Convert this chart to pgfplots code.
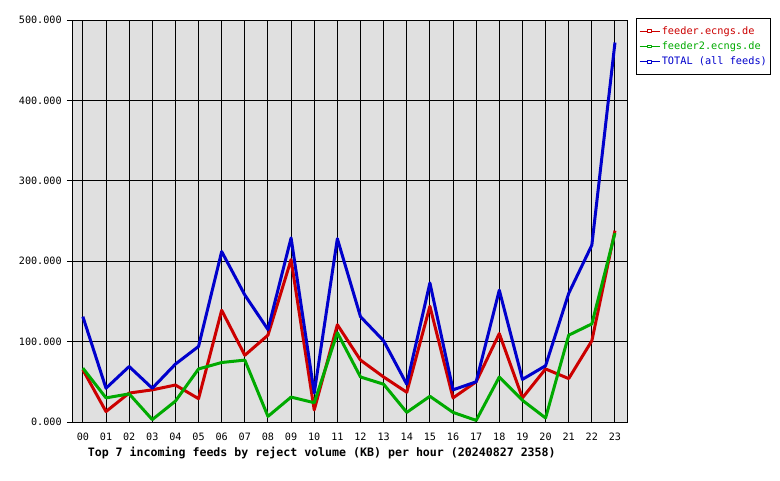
\documentclass[border=0pt]{standalone}
\usepackage{fontspec}
\setmonofont{DejaVu Sans Mono}
\usepackage{pgfplots}
\pgfplotsset{compat=1.18}
\definecolor{cred}{RGB}{204,0,0}
\definecolor{cgreen}{RGB}{0,170,0}
\definecolor{cblue}{RGB}{0,0,204}
\definecolor{bg}{RGB}{224,224,224}
\begin{document}
\begin{tikzpicture}[x=1pt,y=1pt]
\begin{axis}[
  name=ax,
  scale only axis,
  width=416.25pt, height=301.5pt,
  xmin=-0.47, xmax=23.52,
  ymin=0, ymax=500,
  axis background/.style={fill=bg},
  axis line style={black, line width=0.75pt},
  grid=major,
  major grid style={black, line width=0.75pt},
  xtick={0,...,23},
  xticklabels={00,01,02,03,04,05,06,07,08,09,10,11,12,13,14,15,16,17,18,19,20,21,22,23},
  ytick={0,100,...,500},
  ytick pos=left, xtick pos=bottom,
  tick align=outside,
  major tick length=3.75pt,
  xtick style={draw=none},
  ytick style={black, line width=0.75pt},
  /pgf/number format/.cd, fixed, fixed zerofill, precision=3, assume math mode=true,
  /pgfplots/.cd,
  scaled y ticks=false,
  ticklabel style={font=\ttfamily\fontsize{7.6}{9}\selectfont, text=black},
  xticklabel style={yshift=-1pt},
  yticklabel style={xshift=-0.5pt},
  legend style={at={(axis description cs:1.016,1.005)}, anchor=north west,
    draw=black, line width=0.75pt, fill=white,
    font=\ttfamily\fontsize{7.7}{9}\selectfont,
    inner xsep=2pt, inner ysep=5pt,
    row sep=2.6pt,
    nodes={inner sep=0.8pt}},
  legend cell align=left,
  legend image code/.code={
    \draw[#1, line width=0.75pt, line join=miter] (0pt,0pt) -- (15.5pt,0pt);
    \draw[#1, line width=0.75pt, fill=white] (6.25pt,-0.9pt) rectangle (9.25pt,1.1pt);
  },
  clip=false,
]
\addplot[cred, line width=2.25pt, line join=round] coordinates {
(0,65) (1,13) (2,36) (3,40) (4,46) (5,29) (6,139) (7,83) (8,108) (9,202) (10,15) (11,121)
(12,77) (13,56) (14,37) (15,144) (16,30) (17,50) (18,110) (19,30) (20,66) (21,54) (22,101) (23,238)};
\addlegendentry{\textcolor{cred}{feeder.ecngs.de}}
\addplot[cgreen, line width=2.25pt, line join=round] coordinates {
(0,67) (1,30) (2,35) (3,3) (4,26) (5,66) (6,74) (7,77) (8,7) (9,31) (10,24) (11,111)
(12,56) (13,47) (14,12) (15,32) (16,12) (17,2) (18,56) (19,27) (20,5) (21,108) (22,122) (23,235)};
\addlegendentry{\textcolor{cgreen}{feeder2.ecngs.de}}
\addplot[cblue, line width=2.25pt, line join=round] coordinates {
(0,131) (1,42) (2,69) (3,42) (4,72) (5,94) (6,212) (7,158) (8,115) (9,229) (10,36) (11,228)
(12,131) (13,101) (14,47) (15,173) (16,40) (17,50) (18,164) (19,53) (20,70) (21,160) (22,220) (23,472)};
\addlegendentry{\textcolor{cblue}{TOTAL (all feeds)}}
\node[font=\ttfamily\bfseries\fontsize{8.7}{10}\selectfont, anchor=base] at (axis description cs:0.45,-0.085) {Top 7 incoming feeds by reject volume (KB) per hour (20240827 2358)};
\end{axis}
\pgfresetboundingbox
\path[use as bounding box] (ax.south west) ++(-54pt,-43.5pt) rectangle ++(585pt,360pt);
\end{tikzpicture}
\end{document}
